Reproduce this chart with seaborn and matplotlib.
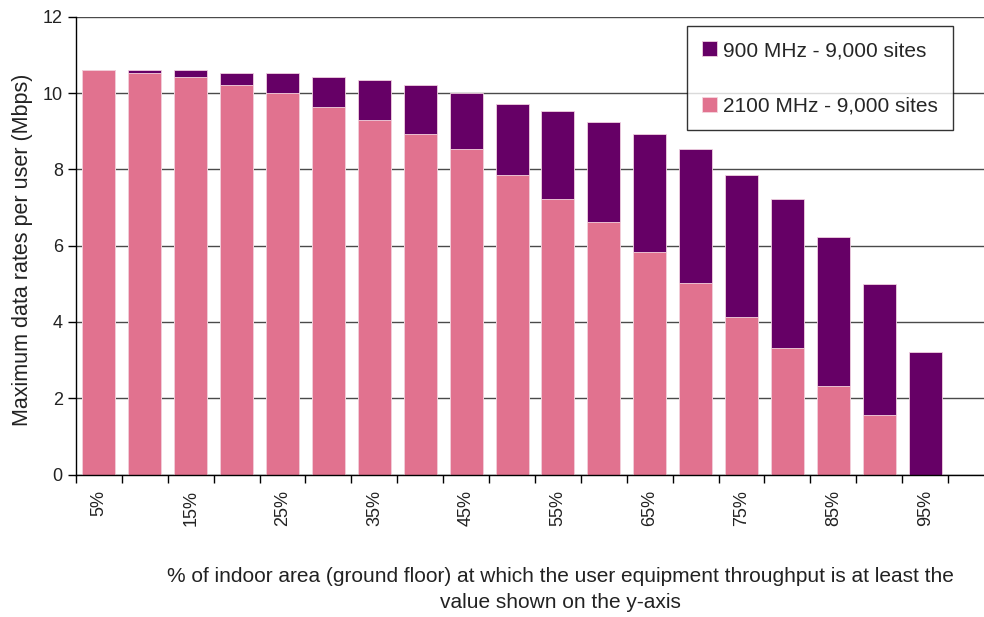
import matplotlib
matplotlib.use("Agg")
import matplotlib.pyplot as plt
import seaborn as sns
import pandas as pd
import numpy as np

categories = [f"{p}%" for p in range(5, 100, 5)]
mhz900 = [10.6, 10.6, 10.6, 10.52, 10.52, 10.42, 10.33, 10.2, 10.0, 9.7,
          9.52, 9.23, 8.93, 8.52, 7.84, 7.21, 6.22, 5.0, 3.22]
mhz2100 = [10.6, 10.52, 10.42, 10.2, 10.0, 9.62, 9.3, 8.93, 8.52, 7.84,
           7.21, 6.63, 5.84, 5.01, 4.13, 3.32, 2.33, 1.55, 0.0]
series_names = ["900 MHz - 9,000 sites", "2100 MHz - 9,000 sites"]
tick_labels = [c if i % 2 == 0 else "" for i, c in enumerate(categories)]

PURPLE = "#660066"
PINK = "#E1728F"

sns.set_style("white")
plt.rcParams["font.family"] = ["Liberation Sans", "DejaVu Sans"]

df = pd.DataFrame({"cat": categories, "v900": mhz900, "v2100": mhz2100})

fig = plt.figure(figsize=(9.84, 6.17), dpi=100)
ax = fig.add_axes([76 / 984, 1 - 474.5 / 617, 1 - 76 / 984, (474.5 - 16.7) / 617])

sns.barplot(data=df, x="cat", y="v900", order=categories, color=PURPLE,
            width=0.72, saturation=1, ax=ax, label=series_names[0],
            edgecolor="#f0d0e0", linewidth=0.6)
sns.barplot(data=df, x="cat", y="v2100", order=categories, color=PINK,
            width=0.72, saturation=1, ax=ax, label=series_names[1],
            edgecolor="#f5d5df", linewidth=0.6)

ax.set_ylim(0, 12)
ax.set_yticks(np.arange(0, 13, 2))
ax.set_xlim(-0.5, -0.5 + 908 / 45.9)
ax.yaxis.grid(True, color="#4a4a4a", linewidth=1.0)
ax.set_axisbelow(True)
for s in ["top", "right"]:
    ax.spines[s].set_visible(False)
for s in ["left", "bottom"]:
    ax.spines[s].set_color("black")
    ax.spines[s].set_linewidth(1.0)

# major ticks at category boundaries, labels on minor ticks at centers
ax.set_xticks(np.arange(-0.5, len(categories), 1.0))
ax.set_xticklabels([])
ax.set_xticks(np.arange(len(categories)), minor=True)
ax.set_xticklabels(tick_labels, minor=True, rotation=90, fontsize=13, color="#222222")
ax.tick_params(axis="x", which="major", direction="out", length=6, width=1, color="black", bottom=True)
ax.tick_params(axis="x", which="minor", length=0, pad=11)
ax.tick_params(axis="y", direction="out", length=6, width=1, color="black", left=True,
               labelsize=13, labelcolor="#222222")
ax.set_xlabel("")
ax.set_ylabel("Maximum data rates per user (Mbps)", fontsize=15.5, color="#222222")
ax.yaxis.set_label_coords(-(76 - 33) / 908, 0.49)

leg = ax.legend(loc="upper left", bbox_to_anchor=((687 - 76) / 908, 1 - (26 - 16.7) / 457.8),
                frameon=True, fancybox=False, fontsize=15, handlelength=0.72, handleheight=0.72,
                labelspacing=1.75, borderpad=0.72, handletextpad=0.3, borderaxespad=0)
leg.get_frame().set_edgecolor("black")
leg.get_frame().set_linewidth(1.0)

fig.text(560 / 984, 1 - 577 / 617,
         "% of indoor area (ground floor) at which the user equipment throughput is at least the",
         ha="center", va="center", fontsize=15, color="#222222")
fig.text(560 / 984, 1 - 603 / 617, "value shown on the y-axis",
         ha="center", va="center", fontsize=15, color="#222222")

fig.savefig("out.png", dpi=100)
